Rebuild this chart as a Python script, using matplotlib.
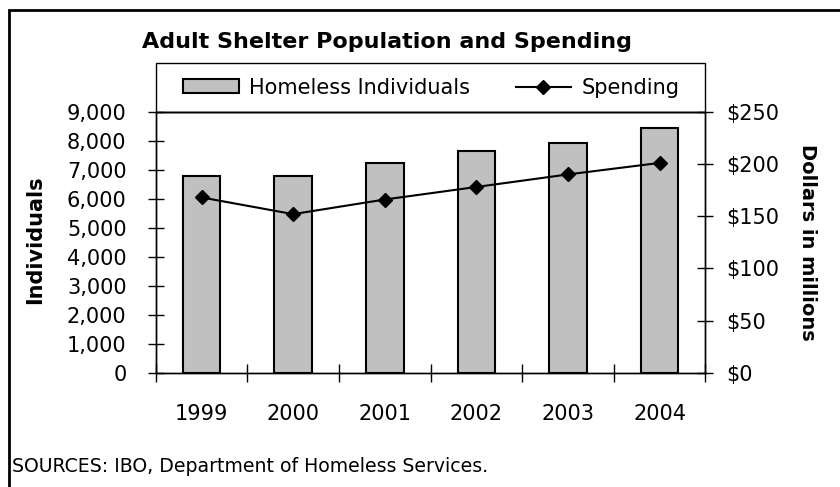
import matplotlib.pyplot as plt
from matplotlib.patches import Rectangle
from matplotlib.ticker import FuncFormatter

years = ['1999', '2000', '2001', '2002', '2003', '2004']
homeless = [6800, 6800, 7250, 7650, 7930, 8440]
spending = [168, 152, 166, 178, 190, 201]

plt.rcParams['font.family'] = ['DejaVu Sans']

fig = plt.figure(figsize=(8.4, 4.87), dpi=100)
ax = fig.add_axes([0.1854, 0.2341, 0.6543, 0.5365])
ax2 = ax.twinx()

x = list(range(len(years)))
bars = ax.bar(x, homeless, width=0.41, color='#C0C0C0', edgecolor='black',
              linewidth=1.5, label='Homeless Individuals', zorder=2)
line, = ax2.plot(x, spending, '-', color='black', linewidth=1.5, marker='D',
                 markersize=7, label='Spending', zorder=3)

ax.set_xlim(-0.5, len(years) - 0.5)
ax.set_ylim(0, 9000)
ax.set_yticks(range(0, 9001, 1000))
ax.yaxis.set_major_formatter(FuncFormatter(lambda v, p: f'{int(v):,}'))
ax2.set_ylim(0, 250)
ax2.set_yticks(range(0, 251, 50))
ax2.yaxis.set_major_formatter(FuncFormatter(lambda v, p: f'${int(v)}'))

# category boundaries as major ticks, labels on minor ticks at centres
ax.set_xticks([i - 0.5 for i in range(len(years) + 1)])
ax.set_xticklabels([])
ax.set_xticks(x, minor=True)
ax.set_xticklabels(years, minor=True)
ax.tick_params(axis='x', which='major', direction='inout', length=13, width=1)
ax.tick_params(axis='x', which='minor', length=0, pad=22, labelsize=15)
ax.tick_params(axis='y', direction='inout', length=12, width=1, pad=15, labelsize=15)
ax2.tick_params(axis='y', direction='inout', length=12, width=1, pad=9, labelsize=15)

for a in (ax, ax2):
    for s in a.spines.values():
        s.set_linewidth(1)
        s.set_color('black')

fig.text(141.7 / 840, 1 - 48.3 / 487, 'Adult Shelter Population and Spending',
         fontsize=16, fontweight='bold', ha='left', va='baseline')
fig.text(35 / 840, 1 - 240 / 487, 'Individuals', rotation=90, fontsize=15,
         fontweight='bold', ha='center', va='center')
fig.text(808 / 840, 1 - 242 / 487, 'Dollars in millions', rotation=270,
         fontsize=14, fontweight='bold', ha='center', va='center')
fig.text(12 / 840, 1 - 467 / 487, 'SOURCES: IBO, Department of Homeless Services.',
         fontsize=13.6, ha='left', va='center')

# legend box sits on top of the plot area, same width
ax2.add_patch(Rectangle((0, 1), 1, 0.185, transform=ax2.transAxes,
                        fill=False, edgecolor='black', linewidth=1,
                        clip_on=False, zorder=5))
leg = ax2.legend([bars, line], ['Homeless Individuals', 'Spending'],
                 loc='center', bbox_to_anchor=(0.5015, 1.0925),
                 ncol=2, borderaxespad=0, borderpad=0, frameon=False,
                 fontsize=15, handlelength=2.65, handleheight=0.62,
                 columnspacing=2.2, handletextpad=0.5)

# outer frame (only top and left edges visible)
fig.patches.append(Rectangle((9 / 840, -0.1), 1.2, 0.1 + 1 - 10 / 487,
                             transform=fig.transFigure, fill=False,
                             edgecolor='black', linewidth=2))

fig.savefig('out.png', dpi=100)
